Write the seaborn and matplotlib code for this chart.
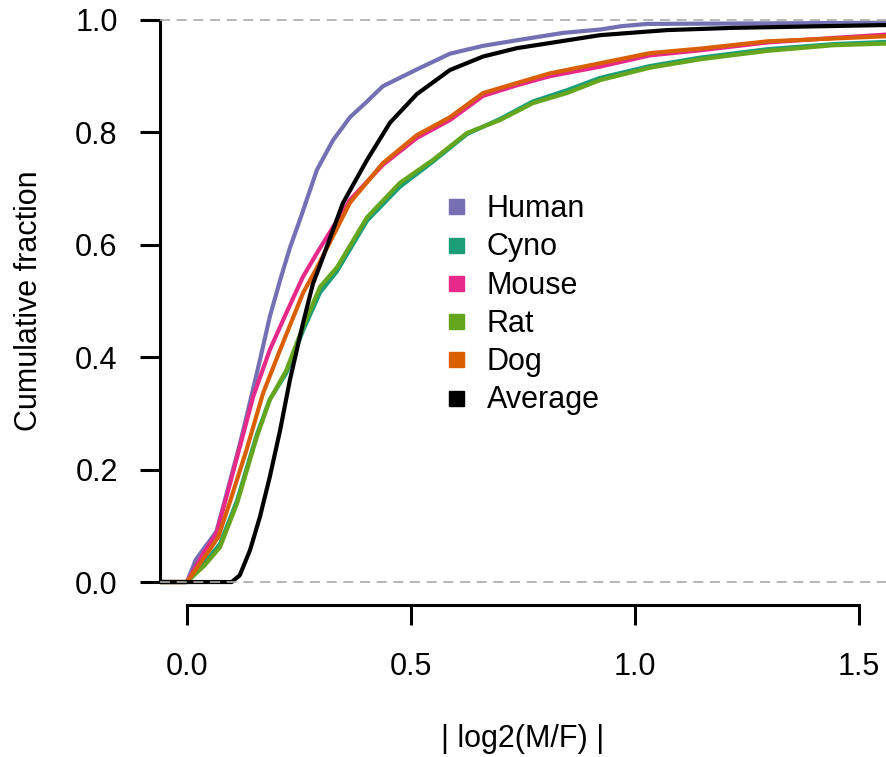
import pandas as pd
import matplotlib.pyplot as plt
import seaborn as sns
from matplotlib.lines import Line2D


species = ["Human", "Cyno", "Mouse", "Rat", "Dog", "Average"]
colors = ["#7570B3", "#1B9E77", "#E7298A", "#66A61E", "#D95F02", "#000000"]

# |log2(M/F)| values and cumulative fraction
human_x = [-0.06, 0.0, 0.02, 0.066, 0.088, 0.118, 0.133, 0.163, 0.185, 0.208, 0.23,
           0.252, 0.29, 0.326, 0.364, 0.402, 0.437, 0.513, 0.587, 0.661, 0.737,
           0.839, 0.922, 0.97, 1.027, 1.56]
human_y = [0.0, 0.0, 0.04, 0.09, 0.155, 0.245, 0.294, 0.395, 0.472, 0.537, 0.595,
           0.644, 0.733, 0.786, 0.827, 0.855, 0.882, 0.912, 0.94, 0.954, 0.964,
           0.977, 0.983, 0.989, 0.993, 0.995]

cyno_x = [-0.06, 0.0, 0.04, 0.074, 0.112, 0.156, 0.185, 0.222, 0.259, 0.297, 0.335,
          0.402, 0.475, 0.549, 0.625, 0.699, 0.772, 0.848, 0.922, 1.033, 1.145,
          1.295, 1.442, 1.56]
cyno_y = [0.0, 0.0, 0.035, 0.068, 0.145, 0.262, 0.325, 0.372, 0.447, 0.515, 0.553,
          0.643, 0.703, 0.748, 0.797, 0.824, 0.855, 0.875, 0.897, 0.918, 0.933,
          0.948, 0.957, 0.961]

mouse_x = [-0.06, 0.0, 0.037, 0.066, 0.088, 0.118, 0.148, 0.185, 0.222, 0.259, 0.29,
           0.364, 0.437, 0.513, 0.587, 0.661, 0.737, 0.81, 0.922, 1.033, 1.145,
           1.295, 1.442, 1.56]
mouse_y = [0.0, 0.0, 0.051, 0.087, 0.151, 0.24, 0.33, 0.413, 0.479, 0.543, 0.585,
           0.68, 0.742, 0.79, 0.822, 0.865, 0.884, 0.90, 0.917, 0.937, 0.946,
           0.96, 0.968, 0.974]

rat_x = [-0.06, 0.0, 0.04, 0.074, 0.112, 0.156, 0.185, 0.222, 0.259, 0.297, 0.335,
         0.402, 0.475, 0.549, 0.625, 0.699, 0.772, 0.848, 0.922, 1.033, 1.145,
         1.295, 1.442, 1.56]
rat_y = [0.0, 0.0, 0.03, 0.062, 0.14, 0.258, 0.324, 0.377, 0.454, 0.525, 0.56,
         0.649, 0.71, 0.751, 0.799, 0.822, 0.852, 0.87, 0.893, 0.915, 0.93,
         0.945, 0.955, 0.958]

dog_x = [-0.06, 0.0, 0.04, 0.07, 0.095, 0.133, 0.17, 0.208, 0.259, 0.29, 0.364,
         0.437, 0.513, 0.587, 0.661, 0.737, 0.81, 0.922, 1.033, 1.145, 1.295,
         1.442, 1.56]
dog_y = [0.0, 0.0, 0.045, 0.08, 0.14, 0.235, 0.336, 0.413, 0.514, 0.559, 0.675,
         0.745, 0.795, 0.827, 0.87, 0.888, 0.905, 0.923, 0.941, 0.949, 0.962,
         0.967, 0.971]

avg_x = [-0.06, 0.10, 0.118, 0.141, 0.163, 0.185, 0.208, 0.23, 0.259, 0.281, 0.30,
         0.348, 0.402, 0.453, 0.513, 0.587, 0.661, 0.737, 0.81, 0.922, 1.071,
         1.219, 1.56]
avg_y = [0.0, 0.0, 0.012, 0.057, 0.116, 0.187, 0.27, 0.36, 0.46, 0.53, 0.57,
         0.674, 0.751, 0.817, 0.868, 0.911, 0.935, 0.95, 0.959, 0.973, 0.982,
         0.986, 0.991]

xs = [human_x, cyno_x, mouse_x, rat_x, dog_x, avg_x]
ys = [human_y, cyno_y, mouse_y, rat_y, dog_y, avg_y]

rows = []
for name, x, y in zip(species, xs, ys):
    for i in range(len(x)):
        rows.append({"species": name, "x": x[i], "frac": y[i]})
df = pd.DataFrame(rows)

sns.set_style("white")
plt.rcParams["font.family"] = ["Liberation Sans", "DejaVu Sans"]
plt.rcParams["font.size"] = 22
plt.rcParams["text.color"] = "black"
plt.rcParams["axes.labelcolor"] = "black"
plt.rcParams["xtick.color"] = "black"
plt.rcParams["ytick.color"] = "black"

fig = plt.figure(figsize=(8.86, 7.57), dpi=100)
ax = fig.add_axes([160 / 886, 1 - 604.5 / 757, 726 / 886, 607 / 757])

sns.lineplot(
    data=df, x="x", y="frac", hue="species",
    hue_order=species, palette=colors,
    estimator=None, sort=False, linewidth=3,
    legend=False, ax=ax
)
for ln in ax.lines:
    ln.set_linewidth(3)
    ln.set_solid_joinstyle("round")

ax.axhline(0, color="#AAAAAA", lw=1.2, linestyle=(0, (6, 4)), zorder=5)
ax.axhline(1, color="#AAAAAA", lw=1.2, linestyle=(0, (6, 4)), zorder=5)

ax.set_xlim(-0.06, 1.56)
ax.set_ylim(-0.04, 1.04)

ax.set_xticks([0, 0.5, 1.0, 1.5])
ax.set_xticklabels(["0.0", "0.5", "1.0", "1.5"])
ax.set_yticks([0, 0.2, 0.4, 0.6, 0.8, 1.0])
ax.set_yticklabels(["0.0", "0.2", "0.4", "0.6", "0.8", "1.0"])

for s in ["top", "right"]:
    ax.spines[s].set_visible(False)
ax.spines["left"].set_bounds(0, 1)
ax.spines["bottom"].set_bounds(0, 1.5)
for s in ["left", "bottom"]:
    ax.spines[s].set_linewidth(2.2)
    ax.spines[s].set_color("black")

ax.tick_params(axis="both", direction="out", length=14.5, width=2.2,
               color="black", labelcolor="black", labelsize=22)
ax.tick_params(axis="y", pad=16, left=True)
ax.tick_params(axis="x", pad=20, bottom=True)

ax.set_xlabel("| log2(M/F) |", fontsize=22, labelpad=30)
ax.set_ylabel("Cumulative fraction", fontsize=22, labelpad=22)

handles = [Line2D([], [], marker="s", linestyle="", color=c, markersize=10.8)
           for c in colors]
ax.legend(handles, species, loc="upper left",
          bbox_to_anchor=(445 / 886, 1 - 194 / 757),
          bbox_transform=fig.transFigure,
          frameon=False, borderpad=0, borderaxespad=0,
          handlelength=0.7, handletextpad=0.67, labelspacing=0.27,
          fontsize=22)

plt.savefig("out.png", dpi=100)
